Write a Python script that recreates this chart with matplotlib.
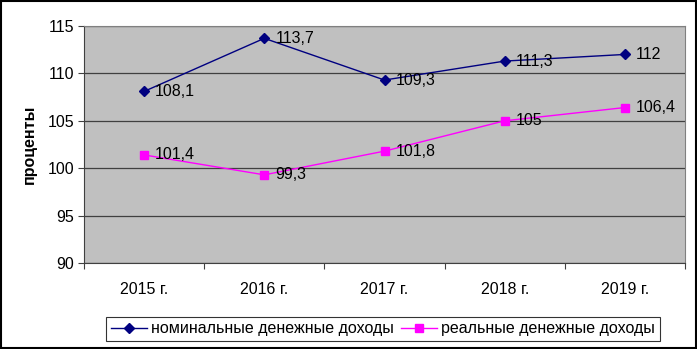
import matplotlib
matplotlib.use("Agg")
import matplotlib.pyplot as plt
from matplotlib.patches import Rectangle

plt.rcParams['font.family'] = ['Liberation Sans', 'DejaVu Sans']

categories = ["2015 г.", "2016 г.", "2017 г.", "2018 г.", "2019 г."]
nominal = [108.1, 113.7, 109.3, 111.3, 112.0]
real = [101.4, 99.3, 101.8, 105.0, 106.4]
nominal_labels = ["108,1", "113,7", "109,3", "111,3", "112"]
real_labels = ["101,4", "99,3", "101,8", "105", "106,4"]
yticks = [90, 95, 100, 105, 110, 115]

FS = 11.5

fig = plt.figure(figsize=(6.97, 3.49), dpi=100)
fig.patch.set_facecolor("white")
fig.add_artist(Rectangle((0.0015, 0.003), 0.997, 0.994, transform=fig.transFigure,
                         fill=False, edgecolor="black", linewidth=1.5))

ax = fig.add_axes([84/697, 1-263/349, (685-84)/697, (263-26)/349])
ax.set_facecolor("#C0C0C0")
x = list(range(len(categories)))

ax.set_xlim(-0.5, len(categories) - 0.5)
ax.set_ylim(90, 115)
ax.set_yticks(yticks)
ax.set_yticklabels([str(v) for v in yticks], fontsize=FS)
ax.yaxis.grid(True, color="#404040", linewidth=0.9)
ax.set_axisbelow(True)

ax.set_xticks([i - 0.5 for i in range(len(categories) + 1)], minor=False)
ax.set_xticklabels([""] * (len(categories) + 1))
ax.set_xticks(x, minor=True)
ax.set_xticklabels(categories, minor=True, fontsize=FS)
ax.tick_params(axis="x", which="minor", length=0, pad=14)
ax.tick_params(axis="x", which="major", length=4, direction="out", color="#404040")
ax.tick_params(axis="y", length=4, direction="out", color="#404040", pad=3)

for side in ["top", "right"]:
    ax.spines[side].set_color("#808080")
for side in ["left", "bottom"]:
    ax.spines[side].set_color("#404040")

ax.plot(x, nominal, color="#000080", marker="D", markersize=5.5, linewidth=1.0,
        label="номинальные денежные доходы", clip_on=False)
ax.plot(x, real, color="#FF00FF", marker="s", markersize=6, linewidth=1.0,
        label="реальные денежные доходы", clip_on=False)

for xi, v, t in zip(x, nominal, nominal_labels):
    ax.annotate(t, (xi, v), xytext=(8, 0), textcoords="offset points",
                va="center", ha="left", fontsize=FS)
for xi, v, t in zip(x, real, real_labels):
    ax.annotate(t, (xi, v), xytext=(8, 0), textcoords="offset points",
                va="center", ha="left", fontsize=FS)

ax.set_ylabel("проценты", fontsize=FS, fontweight="bold", labelpad=8)

leg = fig.legend(loc="center", bbox_to_anchor=(383/697, 1-329/349), ncol=2,
                 fontsize=FS, frameon=True, fancybox=False, edgecolor="black",
                 handlelength=2.3, columnspacing=0.4, handletextpad=0.25,
                 borderpad=0.3, borderaxespad=0.3)
leg.get_frame().set_linewidth(0.8)

fig.savefig("out.png", dpi=100)
